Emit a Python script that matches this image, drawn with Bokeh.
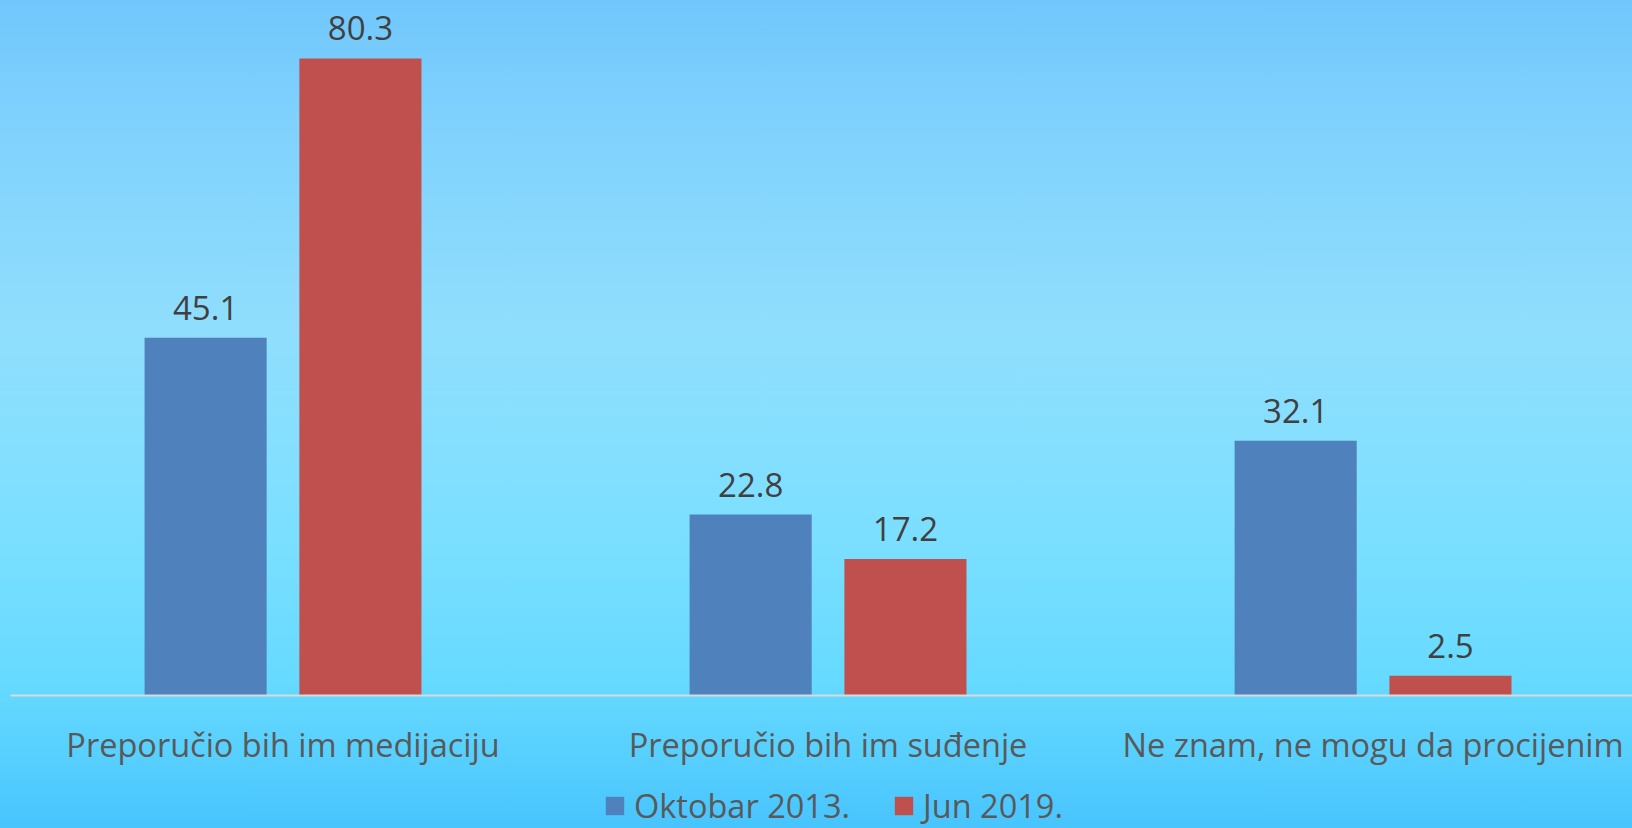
from bokeh.plotting import figure
from bokeh.models import ColumnDataSource, Range1d, FixedTicker, Legend, LegendItem
from bokeh.layouts import column
from bokeh.transform import dodge
from bokeh.core.properties import value
from bokeh.embed import file_html
from bokeh.resources import INLINE

categories = ["Preporučio bih im medijaciju", "Preporučio bih im suđenje", "Ne znam, ne mogu da procijenim"]
series_names = ["Oktobar 2013.", "Jun 2019."]
oktobar_2013 = [45.1, 22.8, 32.1]
jun_2019 = [80.3, 17.2, 2.5]
colors = ["#4F81BD", "#C0504D"]

FONT = "Open Sans"
FS = "32.5px"
xs = [i + 0.5 for i in range(len(categories))]
src = ColumnDataSource(dict(
    x=xs, a=oktobar_2013, b=jun_2019,
    al=[f"{v:.1f}" for v in oktobar_2013],
    bl=[f"{v:.1f}" for v in jun_2019],
))

p = figure(width=1632, height=771, output_backend="svg", toolbar_location=None,
           x_range=Range1d(0, 2.976), y_range=Range1d(0, 87.6),
           y_axis_location=None, min_border_left=10, min_border_right=0,
           min_border_top=0, min_border_bottom=76)
p.background_fill_alpha = 0
p.border_fill_alpha = 0
p.outline_line_color = None
p.xgrid.visible = False
p.ygrid.visible = False

off = 0.142
w = 0.224
r1 = p.vbar(x=dodge("x", -off, range=p.x_range), top="a", width=w, source=src,
            fill_color=colors[0], line_color=None)
r2 = p.vbar(x=dodge("x", off, range=p.x_range), top="b", width=w, source=src,
            fill_color=colors[1], line_color=None)

for col, lab, d in (("a", "al", -off), ("b", "bl", off)):
    p.text(x=dodge("x", d, range=p.x_range), y=col, text=lab, source=src,
           text_align="center", text_baseline="alphabetic", y_offset=-30,
           text_font=value(FONT), text_font_size="33px", text_color="#404040")

ax = p.xaxis[0]
ax.ticker = FixedTicker(ticks=xs)
ax.major_label_overrides = {x: c for x, c in zip(xs, categories)}
ax.major_tick_line_color = None
ax.minor_tick_line_color = None
ax.axis_line_color = "#D9D9D9"
ax.axis_line_width = 2
ax.major_label_text_font = FONT
ax.major_label_text_font_size = FS
ax.major_label_text_color = "#595959"
ax.major_label_standoff = 20

# legend strip below the chart
p2 = figure(width=1632, height=57, output_backend="svg", toolbar_location=None,
            x_range=Range1d(0, 1), y_range=Range1d(0, 1),
            x_axis_location=None, y_axis_location=None,
            min_border_left=0, min_border_right=0, min_border_top=0, min_border_bottom=0)
p2.background_fill_alpha = 0
p2.border_fill_alpha = 0
p2.outline_line_color = None
p2.xgrid.visible = False
p2.ygrid.visible = False
k1 = p2.vbar(x="x", top="a", width=0.1, source=src, fill_color=colors[0], line_color=None, visible=False)
k2 = p2.vbar(x="x", top="b", width=0.1, source=src, fill_color=colors[1], line_color=None, visible=False)

legend = Legend(items=[LegendItem(label=series_names[0], renderers=[k1]),
                       LegendItem(label=series_names[1], renderers=[k2])],
                orientation="horizontal", location=(593, 0),
                label_text_font=FONT, label_text_font_size=FS,
                label_text_color="#595959", glyph_width=23, glyph_height=23,
                spacing=42, label_standoff=8, padding=0, margin=0,
                label_height=32, inactive_fill_alpha=0,
                background_fill_alpha=0, border_line_color=None)
p2.add_layout(legend, "center")

layout = column(p, p2, spacing=0, styles={
    "background": "linear-gradient(to bottom, #71C7FC 0%, #80D2FD 15%, #90DEFD 40%, #7BDFFF 65%, #66DAFF 82%, #56CFFE 92%, #48C4FD 100%)",
})

open("out.html", "w").write(file_html(layout, INLINE))
